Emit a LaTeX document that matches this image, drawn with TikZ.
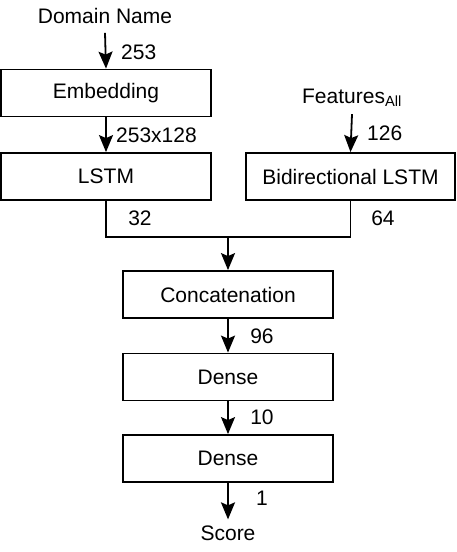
\documentclass[tikz,border=0pt]{standalone}
\usepackage{fontspec}
\setmainfont{Liberation Sans}
\usepackage{xcolor}
\usepackage{tikz}
\usetikzlibrary{arrows.meta}
\usetikzlibrary{positioning}
\tikzstyle{Layer}=[draw=black,line width=1.8pt,minimum width=210pt,
minimum height=47pt,inner sep=0pt,font=\fontsize{21}{25}\selectfont]
\tikzstyle{Label}=[inner sep=0pt,font=\fontsize{21}{25}\selectfont]
\tikzstyle{Arrow}=[draw=black,line width=1.8pt,
-{Stealth[length=17pt,width=14pt,inset=3pt]}]
\tikzstyle{Line}=[draw=black,line width=1.8pt]

\begin{document}
\begin{tikzpicture}[x=1pt,y=-1pt]
        \useasboundingbox(0,0)rectangle(456,552);
        \node[Label](dn)at(105.00,16.00){Domain Name};
        \node[Layer](emb)at(106.00,93.00){Embedding};
        \node[Layer](lstm)at(106.00,176.50){LSTM};
        \node[Label](feat)at(352.00,98.00){Features\textsubscript{All}};
        \node[Layer,minimum width=209pt](bilstm)at(350.50,176.50)
            {Bidirectional LSTM};
        \coordinate(join)at(228.00,237.00);
        \node[Layer](concat)at(228.00,294.50){Concatenation};
        \node[Layer](dense1)at(228.00,377.00){Dense};
        \node[Layer](dense2)at(228.00,458.50){Dense};
        \node[Label](score)at(228.00,533.00){Score};
        \draw[Arrow]([yshift=-9pt]dn.south)--(emb.north);
        \draw[Arrow](emb)--(lstm);
        \draw[Arrow]([yshift=-7pt]feat.south)--(bilstm.north);
        \draw[Line](lstm.south)|-(join)-|(bilstm.south);
        \draw[Arrow](join)--(concat);
        \draw[Arrow](concat)--(dense1);
        \draw[Arrow](dense1)--(dense2);
        \draw[Arrow](dense2.south)--([yshift=6pt]score.north);
        \node[Label,anchor=west](l253)at(121.00,52.00){253};
        \node[Label,anchor=west](l253x)at(116.00,135.00){253x128};
        \node[Label,anchor=west](l126)at(367.00,133.00){126};
        \node[Label](l32)at(140.00,218.00){32};
        \node[Label](l64)at(383.00,218.00){64};
        \node[Label](l96)at(262.00,336.00){96};
        \node[Label](l10)at(262.00,417.00){10};
        \node[Label](l1)at(262.00,498.00){1};
    \end{tikzpicture}
\end{document}
